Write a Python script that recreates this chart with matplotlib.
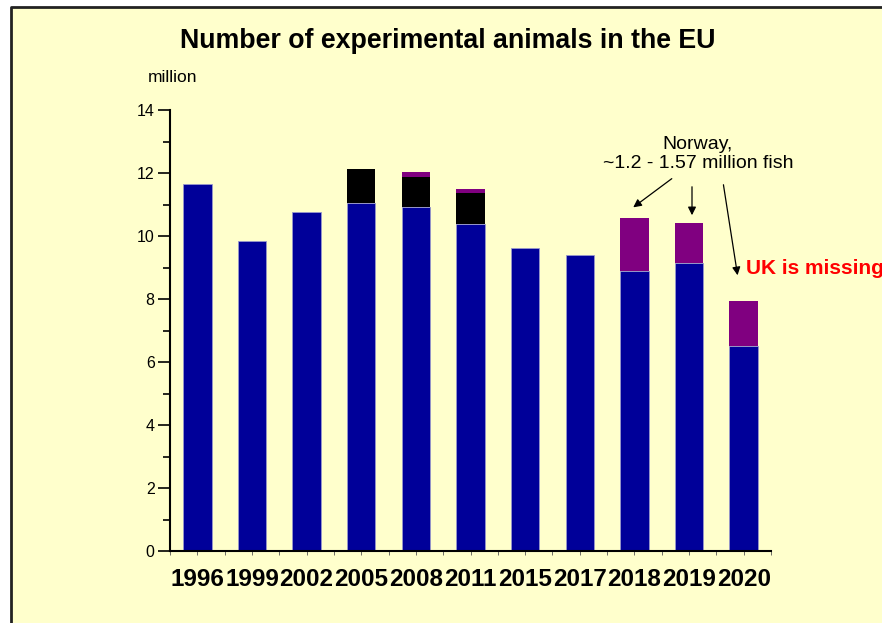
import numpy as np
import matplotlib
matplotlib.use("Agg")
import matplotlib.pyplot as plt
from matplotlib.patches import Rectangle
from matplotlib.lines import Line2D

plt.rcParams['font.family'] = ['Liberation Sans', 'DejaVu Sans']

# data (million animals)
years = ["1996", "1999", "2002", "2005", "2008", "2011", "2015", "2017", "2018", "2019", "2020"]
eu = [11.65, 9.84, 10.76, 11.05, 10.92, 10.39, 9.61, 9.40, 8.89, 9.14, 6.52]
other = [0, 0, 0, 1.08, 0.96, 0.99, 0, 0, 0, 0, 0]
norway = [0, 0, 0, 0, 0.14, 0.11, 0, 0, 1.69, 1.26, 1.42]

bg = "#ffffcc"
blue = "#000099"
purple = "#800080"

fig = plt.figure(figsize=(8.82, 6.23), dpi=100)
fig.patch.set_facecolor("white")
# background panel, framed only on the left and top
fig.patches.append(Rectangle((11 / 882, 0), 1, (623 - 7) / 623,
                             transform=fig.transFigure, facecolor=bg,
                             edgecolor="none", zorder=-10))
fig.lines.append(Line2D([11 / 882, 11 / 882, 1], [0, 1 - 7 / 623, 1 - 7 / 623],
                        transform=fig.transFigure, color="#222222", lw=2))

ax = fig.add_axes([170 / 882, 72 / 623, 601 / 882, 441 / 623])
ax.set_facecolor("none")

x = np.arange(len(years))
eu = np.array(eu)
other = np.array(other)
norway = np.array(norway)
w = 0.52
ax.bar(x, eu, w, color=blue, edgecolor="#9999cc", linewidth=0.6)
ax.bar(x, other, w, bottom=eu, color="black", edgecolor="none")
ax.bar(x, norway, w, bottom=eu + other, color=purple, edgecolor="none")

ax.set_xlim(-0.5, len(years) - 0.5)
ax.set_ylim(0, 14)
ax.set_yticks([0, 2, 4, 6, 8, 10, 12, 14])
ax.set_yticks(np.arange(1, 14, 2), minor=True)
ax.set_xticks(x)
ax.set_xticklabels(years, fontsize=17.5, fontweight="bold")
ax.set_xticks(np.arange(-0.5, len(years), 1.0), minor=True)

for s in ["top", "right"]:
    ax.spines[s].set_visible(False)
ax.spines["left"].set_linewidth(1.5)
ax.spines["bottom"].set_linewidth(1.5)
ax.tick_params(axis="y", which="major", length=9, width=1.2, labelsize=11.5, pad=2)
ax.tick_params(axis="y", which="minor", length=5, width=1.2)
ax.tick_params(axis="x", which="major", length=3, width=0.6, color="#555555", pad=9)
ax.tick_params(axis="x", which="minor", length=3, width=0.6, color="#555555")

fig.text(448 / 882, 1 - 41 / 623, "Number of experimental animals in the EU",
         ha="center", va="center", fontsize=19.3, fontweight="bold")
fig.text(148 / 882, 1 - 77 / 623, "million", ha="left", va="center", fontsize=12.5)

fig.text(698 / 882, 1 - 154 / 623, "Norway,\n~1.2 - 1.57 million fish",
         ha="center", va="center", fontsize=14, linespacing=1.2)
arrow = dict(arrowstyle="-|>", color="black", lw=0.9, mutation_scale=12)
fig_pt = lambda px, py: (px / 882, 1 - py / 623)
for (sx, sy), (ex, ey) in [((674, 177), (631, 209)), ((692, 184), (692, 218)),
                           ((723, 182), (738, 278))]:
    ax.annotate("", xy=fig_pt(ex, ey), xycoords="figure fraction",
                xytext=fig_pt(sx, sy), textcoords="figure fraction",
                arrowprops=arrow)

fig.text(746 / 882, 1 - 269 / 623, "UK is missing", color="red",
         fontsize=15, fontweight="bold", ha="left", va="center")

fig.savefig("out.png", dpi=100, facecolor=fig.get_facecolor())
